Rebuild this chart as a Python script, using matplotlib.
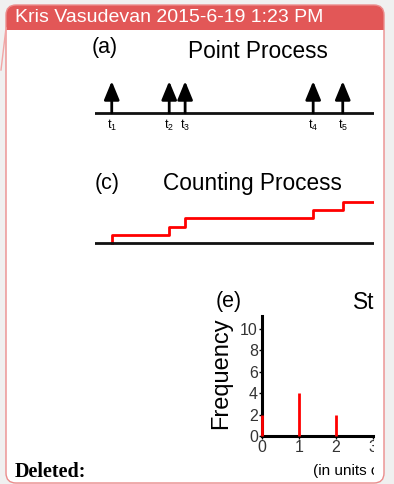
import matplotlib
matplotlib.use("Agg")
import matplotlib.pyplot as plt
import numpy as np
from matplotlib.patches import FancyBboxPatch, Rectangle

plt.rcParams['font.family'] = ['Liberation Sans', 'DejaVu Sans']
plt.rcParams['mathtext.fontset'] = 'custom'
plt.rcParams['mathtext.rm'] = 'Liberation Sans'

# data
header = "Kris Vasudevan 2015-6-19 1:23 PM"
event_times = [0.6, 2.66, 3.23, 7.82, 8.88]          # arrival times t1..t5 (time axis 0..10)
event_labels = [r"$\mathregular{t_%d}$" % (i + 1) for i in range(len(event_times))]
counts = list(range(len(event_times) + 1))           # N(t) = 0,1,...,5
hist_bins = [0, 1, 2]
hist_freq = [2, 4, 2]
hist_yticks = [0, 2, 4, 6, 8, 10]
hist_xticks = [0, 1, 2, 3]

W, H = 394, 484
fig = plt.figure(figsize=(W / 100, H / 100), dpi=100, facecolor='#f0f0f0')


def ax_px(x0, y0, x1, y1):
    return fig.add_axes([x0 / W, 1 - y1 / H, (x1 - x0) / W, (y1 - y0) / H])


# comment balloon
bg = ax_px(0, 0, W, H)
bg.set_xlim(0, W)
bg.set_ylim(H, 0)
bg.axis('off')
bg.add_patch(FancyBboxPatch((6, 5), 378, 478, boxstyle='round,pad=0,rounding_size=10',
                            fc='white', ec='none'))
bg.add_patch(FancyBboxPatch((6, 5), 378, 40, boxstyle='round,pad=0,rounding_size=10',
                            fc='#e25757', ec='none'))
bg.add_patch(Rectangle((6, 30), 378, 20, fc='white', ec='none'))
bg.add_patch(FancyBboxPatch((6, 5), 378, 478, boxstyle='round,pad=0,rounding_size=10',
                            fc='none', ec='#eb8c8c', lw=1))
bg.plot([1, 6], [70, 28], color='#f2a5a5', lw=1)
bg.text(15, 18, header, color='white', fontsize=14, va='center', ha='left')
bg.text(15, 472, "Deleted:", family='Liberation Serif', fontweight='bold',
        fontsize=14.5, va='center', ha='left')

# clip region of the pasted picture
img = ax_px(88, 32, 374, 484)
img.set_xlim(88, 374)
img.set_ylim(484, 32)
img.axis('off')


def clipped(t):
    t.set_clip_on(True)
    t.set_clip_box(img.bbox)
    return t


# (a) point process
img.text(92, 47, "(a)", fontsize=15.5, va='center')
img.text(188, 51, "Point Process", fontsize=16.3, va='center')
pp = ax_px(95, 79, 374, 125)
pp.set_xlim(0, 10)
pp.set_ylim(-0.4, 1.1)
pp.axis('off')
pp.axhline(0, color='#111111', lw=2)
for t, lab in zip(event_times, event_labels):
    pp.annotate('', xy=(t, 1.03), xytext=(t, 0),
                arrowprops=dict(arrowstyle='-|>,head_length=0.8,head_width=0.33',
                                color='black', lw=2, mutation_scale=14, shrinkA=0, shrinkB=0))
    pp.text(t, -0.4, lab, fontsize=9, ha='center', va='center')

# (c) counting process
img.text(95, 183, "(c)", fontsize=15.5, va='center')
img.text(163, 183, "Counting Process", fontsize=16.3, va='center')
cp = ax_px(95, 195, 374, 250)
cp.set_xlim(0, 10)
cp.set_ylim(-0.85, 5.85)
cp.axis('off')
xs = [event_times[0]] + event_times + [10]
cp.step(xs, counts + [counts[-1]], where='post', color='red', lw=2)
cp.axhline(0, color='#111111', lw=2)

# (e) histogram
img.text(216, 301, "(e)", fontsize=15.5, va='center')
img.text(353, 302, "St", fontsize=16.3, va='center')
hx = ax_px(262, 316, 373, 436)
hx.set_xlim(0, 2.88)
hx.set_ylim(0, 11.2)
hx.vlines(hist_bins, 0, hist_freq, color='red', lw=2, zorder=3, clip_on=False)
for s in ['top', 'right']:
    hx.spines[s].set_visible(False)
for s in ['left', 'bottom']:
    hx.spines[s].set_linewidth(2.2)
    hx.spines[s].set_zorder(2)
hx.set_yticks(hist_yticks)
hx.set_xticks(hist_xticks)
hx.tick_params(labelsize=11.5, length=2, width=1, pad=1, labelcolor='#333333')
for lab in hx.get_xticklabels() + hx.get_yticklabels():
    clipped(lab)
hx.set_ylabel("Frequency", fontsize=17)
hx.yaxis.set_label_coords(-0.27, 0.52)
clipped(img.text(313, 471, "(in units of", fontsize=11, va='center'))

fig.savefig("out.png", dpi=100, facecolor=fig.get_facecolor())
